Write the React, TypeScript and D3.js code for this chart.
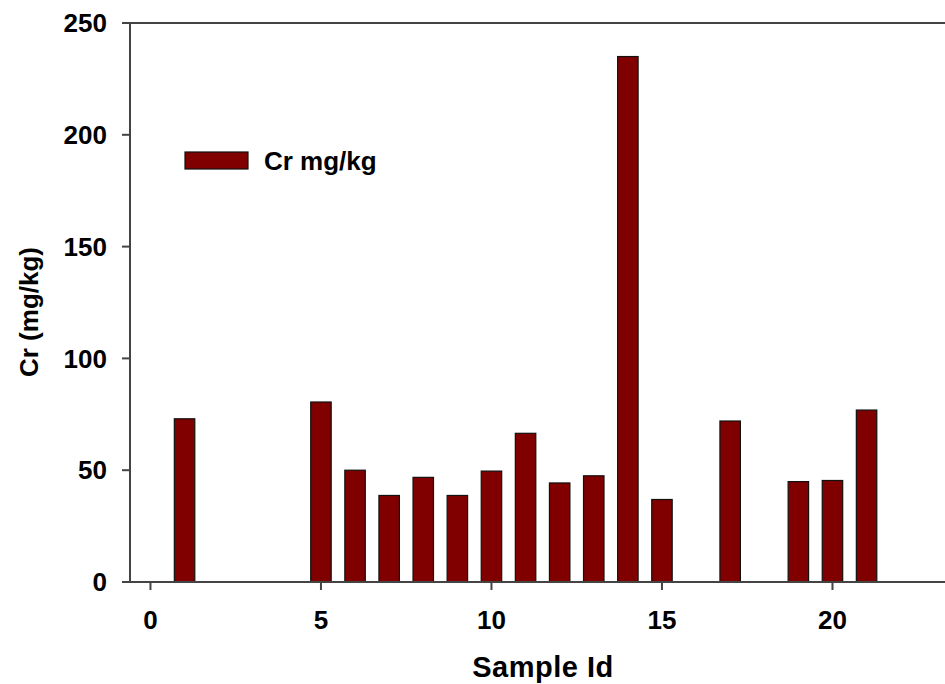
import React, { useEffect, useRef } from 'react';
import * as d3 from 'd3';

// Sample ids and Cr concentration (mg/kg)
const sampleIds = [1, 5, 6, 7, 8, 9, 10, 11, 12, 13, 14, 15, 17, 19, 20, 21];
const crValues = [73, 80.5, 50, 38.7, 46.8, 38.7, 49.6, 66.5, 44.3, 47.5, 235, 36.9, 72, 44.9, 45.4, 76.9];
const xTicks = [0, 5, 10, 15, 20];
const yTicks = [0, 50, 100, 150, 200, 250];
const legendLabel = 'Cr mg/kg';

export default function App() {
  const ref = useRef<SVGSVGElement | null>(null);

  useEffect(() => {
    const width = 945;
    const axisColor = '#444444';
    const font = '"Liberation Sans", Arial, sans-serif';

    const svg = d3.select(ref.current);
    svg.selectAll('*').remove();

    const x = d3.scaleLinear().domain([-0.6, 23.3]).range([130, 945]);
    const y = d3.scaleLinear().domain([0, 250]).range([582, 23]);
    const barW = x(0.6) - x(0);

    const data = sampleIds.map((id, i) => ({ id, v: crValues[i] }));

    // bars
    svg.append('g')
      .selectAll('rect')
      .data(data)
      .enter()
      .append('rect')
      .attr('x', d => x(d.id) - barW / 2)
      .attr('y', d => y(d.v))
      .attr('width', barW)
      .attr('height', d => y(0) - y(d.v))
      .attr('fill', '#800000')
      .attr('stroke', '#111')
      .attr('stroke-width', 1.2);

    // frame: left, top, bottom
    const frame = svg.append('g').attr('stroke', axisColor).attr('stroke-width', 2).attr('fill', 'none');
    frame.append('line').attr('x1', 130).attr('x2', 130).attr('y1', y(250)).attr('y2', y(0));
    frame.append('line').attr('x1', 130).attr('x2', width).attr('y1', y(250)).attr('y2', y(250));
    frame.append('line').attr('x1', 130).attr('x2', width).attr('y1', y(0)).attr('y2', y(0));

    // y ticks
    const yAxis = svg.append('g');
    yTicks.forEach(t => {
      yAxis.append('line')
        .attr('x1', 122).attr('x2', 130)
        .attr('y1', y(t)).attr('y2', y(t))
        .attr('stroke', axisColor).attr('stroke-width', 2);
      yAxis.append('text')
        .attr('x', 107)
        .attr('y', y(t))
        .attr('dy', '0.35em')
        .attr('text-anchor', 'end')
        .attr('font-family', font)
        .attr('font-weight', 'bold')
        .attr('font-size', 26)
        .text(t);
    });

    // x ticks
    const xAxis = svg.append('g');
    xTicks.forEach(t => {
      xAxis.append('line')
        .attr('x1', x(t)).attr('x2', x(t))
        .attr('y1', y(0)).attr('y2', y(0) + 8)
        .attr('stroke', axisColor).attr('stroke-width', 2);
      xAxis.append('text')
        .attr('x', x(t))
        .attr('y', 629)
        .attr('text-anchor', 'middle')
        .attr('font-family', font)
        .attr('font-weight', 'bold')
        .attr('font-size', 26)
        .text(t);
    });

    // axis titles
    svg.append('text')
      .attr('x', 543)
      .attr('y', 677)
      .attr('text-anchor', 'middle')
      .attr('font-family', font)
      .attr('font-weight', 'bold')
      .attr('font-size', 29)
      .attr('letter-spacing', 0.5)
      .text('Sample Id');

    svg.append('text')
      .attr('transform', `translate(38, 312) rotate(-90)`)
      .attr('text-anchor', 'middle')
      .attr('font-family', font)
      .attr('font-weight', 'bold')
      .attr('font-size', 26)
      .text('Cr (mg/kg)');

    // legend
    const legend = svg.append('g');
    legend.append('rect')
      .attr('x', 185).attr('y', 152)
      .attr('width', 63).attr('height', 17)
      .attr('fill', '#800000')
      .attr('stroke', '#111')
      .attr('stroke-width', 1.2);
    legend.append('text')
      .attr('x', 264)
      .attr('y', 170)
      .attr('font-family', font)
      .attr('font-weight', 'bold')
      .attr('font-size', 26)
      .text(legendLabel);
  }, []);

  return (
    <svg
      ref={ref}
      width={945}
      height={684}
      style={{ position: 'absolute', left: 0, top: 0, background: '#fff' }}
    />
  );
}
